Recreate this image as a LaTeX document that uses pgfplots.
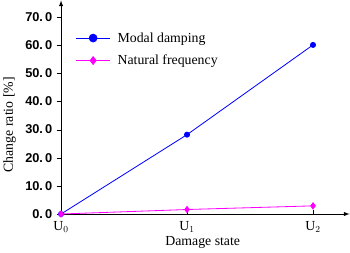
\documentclass[border=0pt]{standalone}
\usepackage{pgfplots}
\pgfplotsset{compat=1.18}
\usepackage{fontspec}
\setmainfont{Liberation Serif}
\setsansfont{Liberation Sans}
\definecolor{mblue}{RGB}{0,0,255}
\definecolor{mmag}{RGB}{255,0,255}
\begin{document}
\begin{tikzpicture}
\begin{axis}[
  scale only axis, width=281bp, height=208bp,
  xmin=0, xmax=2.29, ymin=0, ymax=75.9,
  axis x line=bottom, axis y line=left,
  axis line style={line width=0.9pt, -latex},
  xtick={0,1,2}, xticklabels={U$_0$,U$_1$,U$_2$},
  ytick={0,10,20,30,40,50,60,70},
  yticklabels={0.\,0,10.\,0,20.\,0,30.\,0,40.\,0,50.\,0,60.\,0,70.\,0},
  yticklabel style={font=\sffamily\bfseries\fontsize{12.5}{12.5}\selectfont, xshift=-1bp},
  xticklabel style={font=\fontsize{13.5}{13.5}\selectfont},
  tick align=outside, major tick length=4bp,
  xtick style={yshift=4bp, black},
  ytick style={black},
  xlabel={Damage state}, ylabel={Change ratio [\%]},
  label style={font=\fontsize{13.5}{13.5}\selectfont},
  xlabel style={at={(axis description cs:0.491,-0.135)}, anchor=center},
  ylabel style={at={(axis description cs:-0.178,0.418)}, anchor=center, rotate=0},
  legend style={draw=none, fill=none, at={(0.04,0.87)}, anchor=north west,
    font=\fontsize{13.5}{13.5}\selectfont, row sep=7bp, column sep=5bp},
  legend cell align=left,
  legend image code/.code={\draw[mark repeat=2,mark phase=2,mark size=3.8bp] plot coordinates {(0cm,0cm) (0.58cm,0cm) (1.16cm,0cm)};},
]
\addplot[mblue, line width=0.8pt, mark=*, mark size=2.5bp] coordinates {(0,0) (1,28.2) (2,60.1)};
\addlegendentry{Modal damping}
\addplot[mmag, line width=0.8pt, mark=diamond*, mark size=3bp] coordinates {(0,0) (1,1.6) (2,2.9)};
\addlegendentry{Natural frequency}
\end{axis}
\end{tikzpicture}
\end{document}
